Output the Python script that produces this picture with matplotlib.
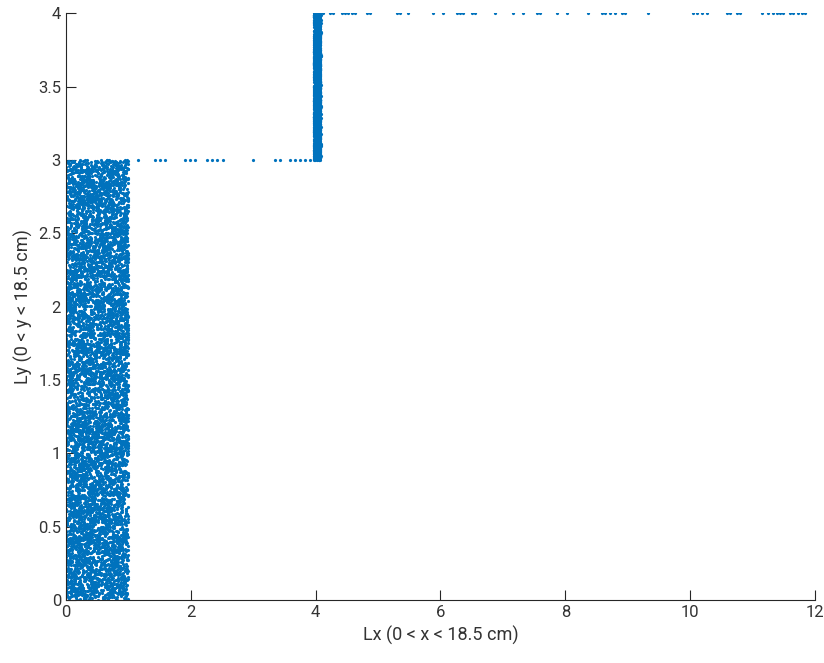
import numpy as np
import matplotlib.pyplot as plt

plt.rcParams['font.family'] = ['Roboto', 'DejaVu Sans']

# sparse points
edge_low_x = [1.15, 1.43, 1.51, 1.59, 1.91, 1.99, 2.07, 2.26, 2.34, 2.42, 2.52,
              3.00, 3.35, 3.43, 3.59, 3.67, 3.75, 3.83, 3.91]
edge_low_y = [3.0] * len(edge_low_x)

edge_top_x = [4.12, 4.23, 4.28, 4.42, 4.47, 4.52, 4.58, 4.63, 4.82, 4.87,
              5.30, 5.35, 5.48, 5.88, 6.04, 6.26, 6.31, 6.36, 6.50, 6.55,
              6.87, 7.16, 7.32, 7.55, 7.59, 7.87, 8.03, 8.36, 8.59, 8.64,
              8.72, 8.80, 8.91, 8.96, 9.32, 10.04, 10.11, 10.19, 10.27,
              10.59, 10.64, 10.75, 10.80, 11.15, 11.25, 11.33, 11.39, 11.44,
              11.49, 11.60, 11.65, 11.73, 11.79, 11.84]
edge_top_y = [4.0] * len(edge_top_x)

# dense clouds: too many points to read one by one, only extent and count
block_x = (0.0, 1.0)
block_y = (0.0, 3.0)
block_n = 7000
band_x = (3.97, 4.08)
band_y = (3.0, 4.0)
band_n = 1800

rng = np.random.default_rng(7)
bx = rng.uniform(*block_x, block_n)
by = rng.uniform(*block_y, block_n)
vx = rng.uniform(*band_x, band_n)
vy = rng.uniform(*band_y, band_n)

blue = '#0072BD'
fig = plt.figure(figsize=(8.24, 6.63), dpi=100)
ax = fig.add_axes([0.080, 0.095, 0.909, 0.885])

for x, y in [(bx, by), (vx, vy), (edge_low_x, edge_low_y), (edge_top_x, edge_top_y)]:
    ax.plot(x, y, '.', color=blue, markersize=4.6, markeredgewidth=0)

ax.set_xlim(0, 12)
ax.set_ylim(0, 4)
ax.set_xticks(range(0, 13, 2))
ax.set_yticks([0, 0.5, 1, 1.5, 2, 2.5, 3, 3.5, 4])
ax.set_yticklabels(['0', '0.5', '1', '1.5', '2', '2.5', '3', '3.5', '4'])
ax.spines['top'].set_visible(False)
ax.spines['right'].set_visible(False)
for s in ['left', 'bottom']:
    ax.spines[s].set_color('#262626')
    ax.spines[s].set_linewidth(0.8)
ax.tick_params(direction='in', length=7, width=0.8, colors='#262626',
               labelsize=12, labelcolor='#333333')
ax.set_xlabel('Lx (0 < x < 18.5 cm)', fontsize=13, color='#333333')
ax.set_ylabel('Ly (0 < y < 18.5 cm)', fontsize=13, color='#333333')

fig.savefig('out.png', dpi=100)
